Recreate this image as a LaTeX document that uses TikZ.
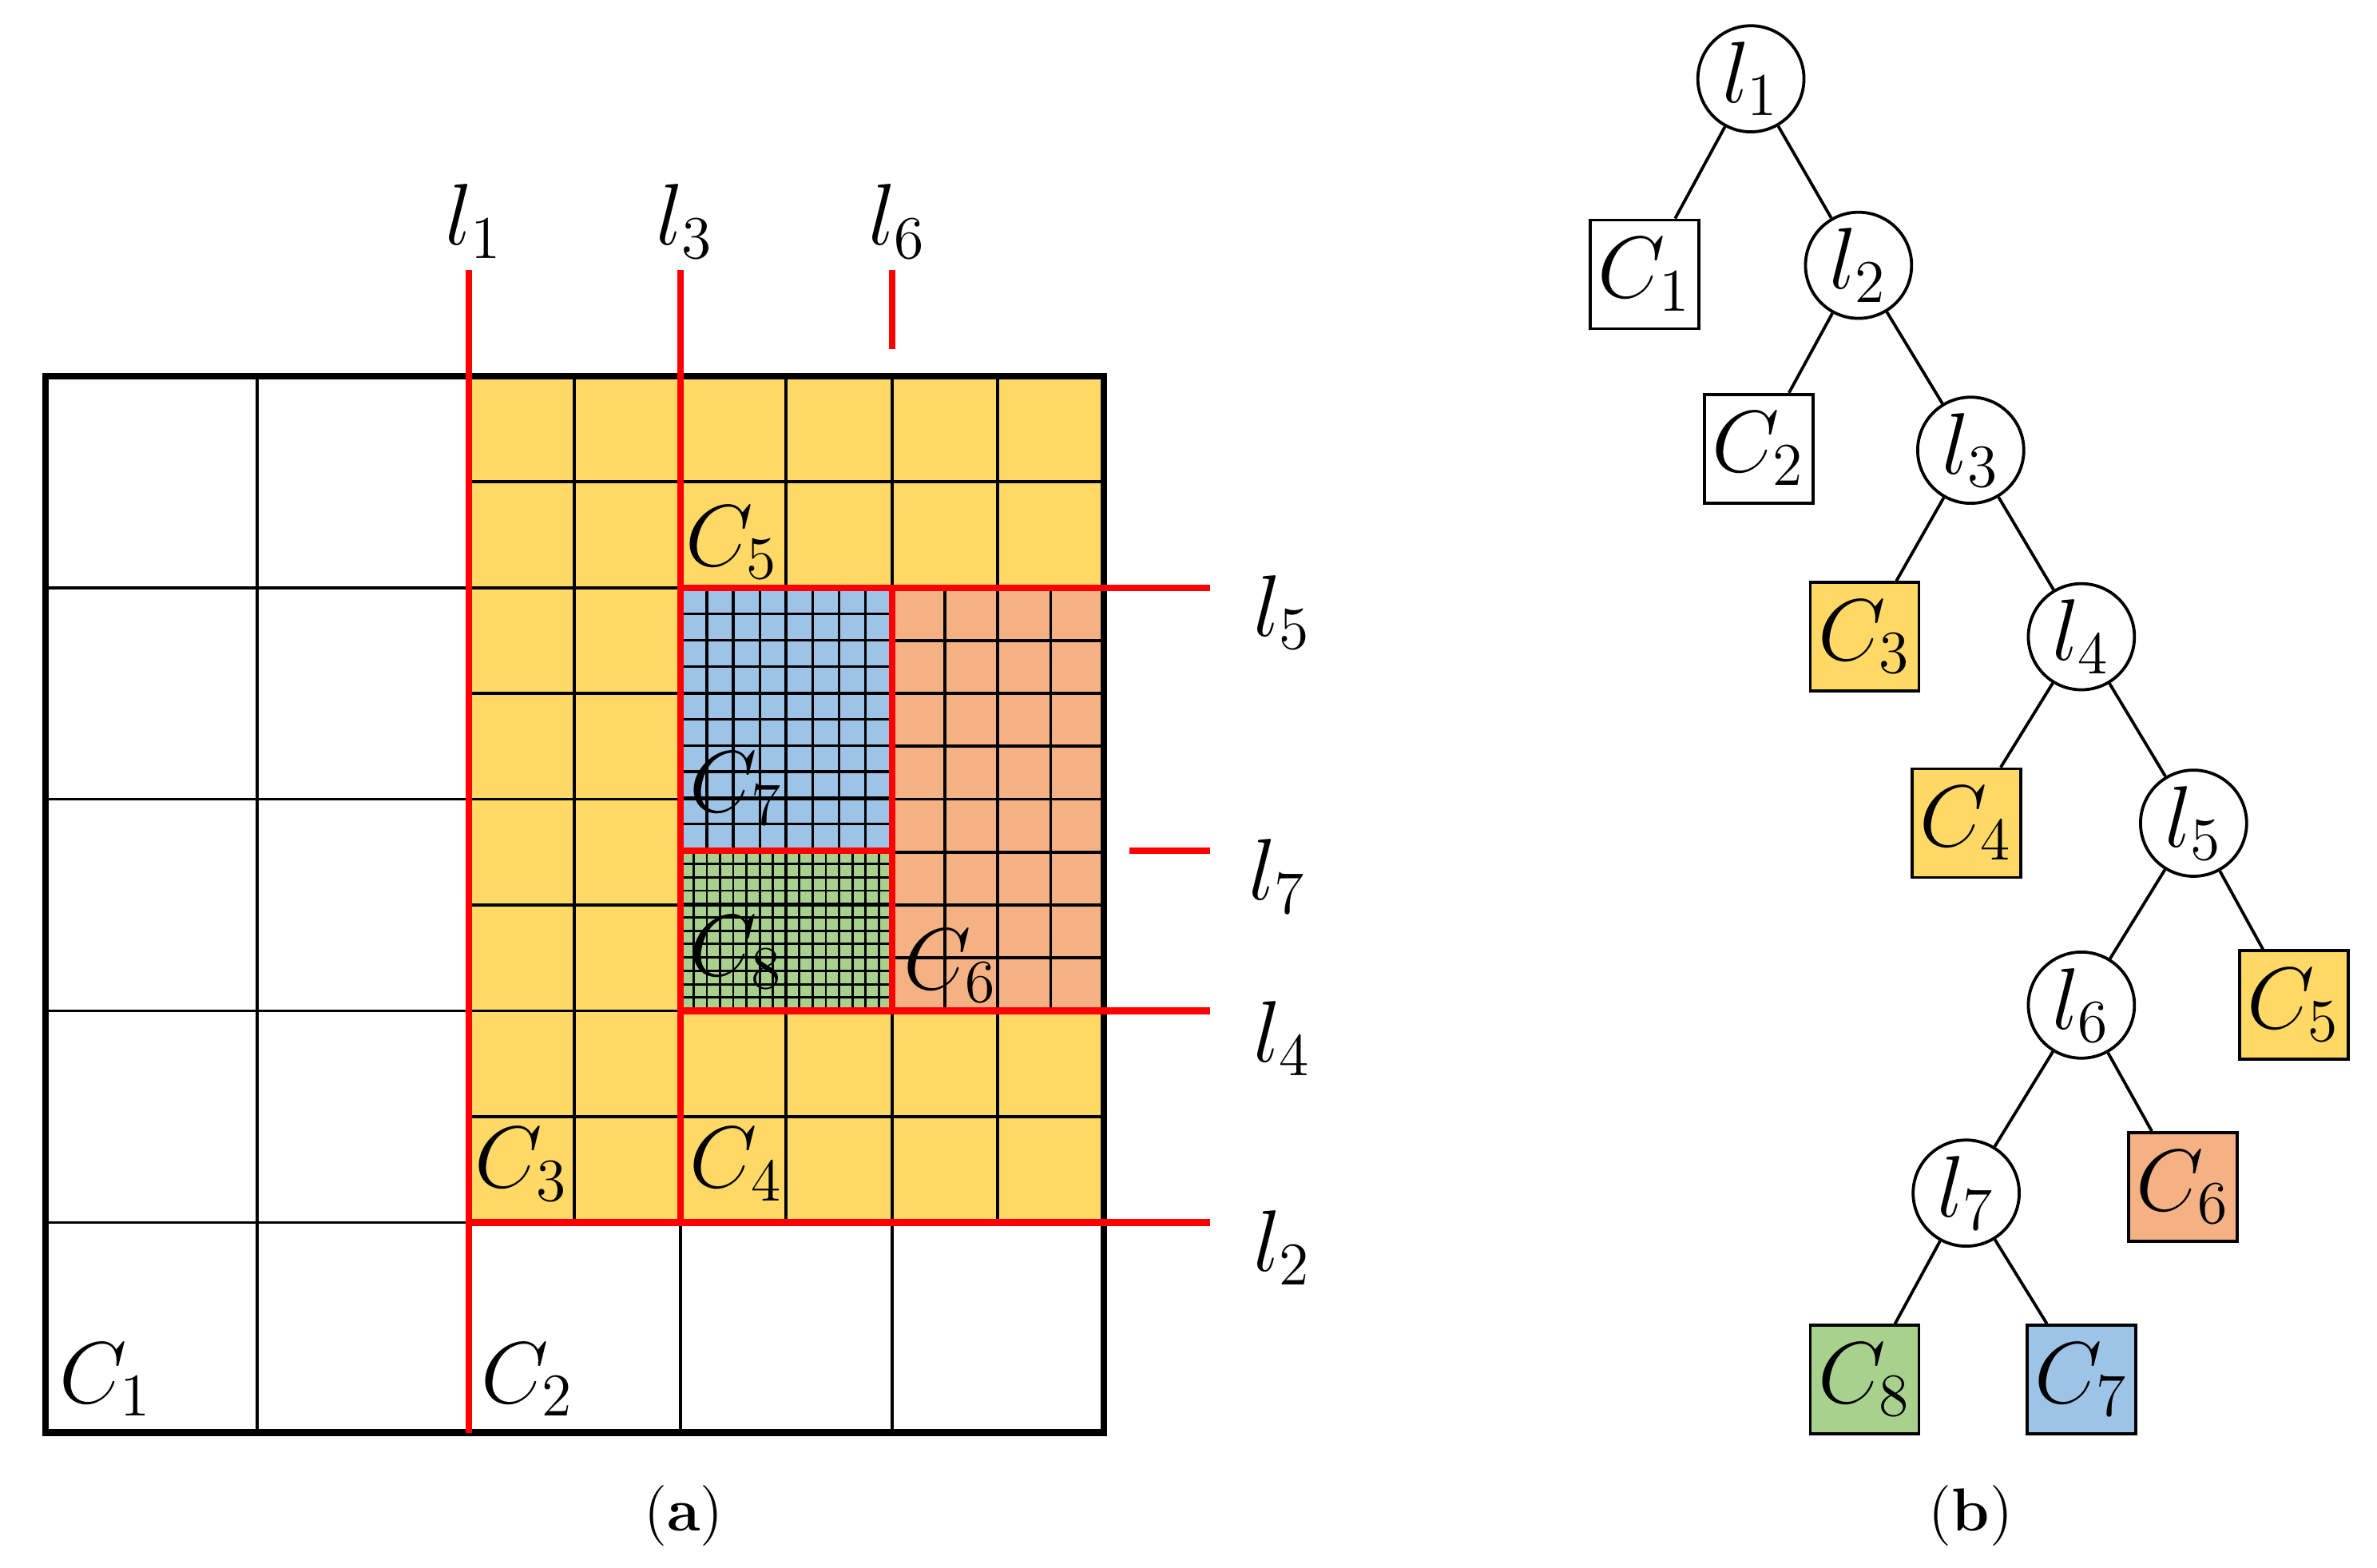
\documentclass[tikz,border=0pt]{standalone}
\usepackage{amsmath}
\begin{document}
\begin{tikzpicture}[x=0.3pt,y=-0.3pt,
  red line/.style={draw=red,line width=1.3pt},
  lab/.style={font=\fontsize{18}{20}\selectfont,inner sep=0pt},
  cnode/.style={circle,draw,line width=0.6pt,minimum size=21pt,inner sep=0pt,fill=white,font=\fontsize{17}{19}\selectfont},
  bnode/.style={rectangle,draw,line width=0.6pt,minimum size=21.5pt,inner sep=0pt,font=\fontsize{17}{19}\selectfont},
  edge/.style={line width=0.6pt}]
\definecolor{cy}{HTML}{FFD966}
\definecolor{cb}{HTML}{9DC3E6}
\definecolor{co}{HTML}{F4B183}
\definecolor{cg}{HTML}{A9D18E}
\useasboundingbox (0,0) rectangle (1568,1034);
\def\c{139.6}
% fills
\fill[cy] (309.2,248) rectangle (728,806.4);
\fill[cb] (448.8,387.6) rectangle (588.4,561);
\fill[cg] (448.8,561) rectangle (588.4,666.8);
\fill[co] (588.4,387.6) rectangle (728,666.8);
% coarse grid
\foreach \i in {1,...,4} {
  \draw[line width=0.6pt] ({30+\i*\c},248) -- ({30+\i*\c},945);
  \draw[line width=0.6pt] (30,{248+\i*\c}) -- (728,{248+\i*\c});
}
% yellow half grid
\foreach \i in {1,3,5} {
  \draw[line width=0.6pt] ({309.2+\i*69.8},248) -- ({309.2+\i*69.8},806.4);
}
\foreach \j in {1,3,5,7} {
  \draw[line width=0.6pt] (309.2,{248+\j*69.8}) -- (728,{248+\j*69.8});
}
% orange quarter grid
\foreach \i in {1,2,3} \draw[line width=0.6pt] ({588.4+\i*34.9},387.6) -- ({588.4+\i*34.9},666.8);
\foreach \j in {1,...,7} \draw[line width=0.6pt] (588.4,{387.6+\j*34.9}) -- (728,{387.6+\j*34.9});
% blue grid 8x10
\foreach \i in {1,...,7} \draw[line width=0.5pt] ({448.8+\i*17.45},387.6) -- ({448.8+\i*17.45},561);
\foreach \j in {1,...,9} \draw[line width=0.5pt] (448.8,{387.6+\j*17.34}) -- (588.4,{387.6+\j*17.34});
% green grid 16x12
\foreach \i in {1,...,15} \draw[line width=0.45pt] ({448.8+\i*8.725},561) -- ({448.8+\i*8.725},666.8);
\foreach \j in {1,...,11} \draw[line width=0.45pt] (448.8,{561+\j*8.82}) -- (588.4,{561+\j*8.82});
% outer border
\draw[line width=1.3pt] (30,248) rectangle (728,945);
% red lines
\draw[red line] (309.2,178) -- (309.2,945);
\draw[red line] (448.8,178) -- (448.8,806.4);
\draw[red line] (588.4,178) -- (588.4,230);
\draw[red line] (448.8,387.6) -- (798,387.6);
\draw[red line] (448.8,666.8) -- (798,666.8);
\draw[red line] (309.2,806.4) -- (798,806.4);
\draw[red line] (745,561) -- (798,561);
\draw[red line] (588.4,387.6) -- (588.4,666.8);
\draw[red line] (448.8,561) -- (588.4,561);
% line labels
\node[lab] (tl1) at (313,146) {$l_1$};
\node[lab] (tl3) at (452,146) {$l_3$};
\node[lab] (tl6) at (592,146) {$l_6$};
\node[lab] (tl5) at (846,404) {$l_5$};
\node[lab] (tl7) at (843,578) {$l_7$};
\node[lab] (tl4) at (846,685) {$l_4$};
\node[lab] (tl2) at (846,823) {$l_2$};
% cell labels
\node[lab] (tc1) at (70,910) {$C_1$};
\node[lab] (tc2) at (348,910) {$C_2$};
\node[lab] (tc3) at (344,768) {$C_3$};
\node[lab] (tc4) at (486,768) {$C_4$};
\node[lab] (tc5) at (483,358) {$C_5$};
\node[lab] (tc7) at (486,520) {$C_7$};
\node[lab] (tc8) at (486,628) {$C_8$};
\node[lab] (tc6) at (627,637) {$C_6$};
\node[font=\fontsize{12}{14}\selectfont] (ca) at (451,1000) {(\textbf{a})};
% tree
\node[cnode] (n1) at (1155,52) {$l_1$};
\node[cnode] (n2) at (1226,175) {$l_2$};
\node[cnode] (n3) at (1300,297) {$l_3$};
\node[cnode] (n4) at (1373,420) {$l_4$};
\node[cnode] (n5) at (1447,543) {$l_5$};
\node[cnode] (n6) at (1373,663) {$l_6$};
\node[cnode] (n7) at (1297,787) {$l_7$};
\node[bnode,fill=white] (b1) at (1085,181) {$C_1$};
\node[bnode,fill=white] (b2) at (1160,296) {$C_2$};
\node[bnode,fill=cy] (b3) at (1230,420) {$C_3$};
\node[bnode,fill=cy] (b4) at (1297,543) {$C_4$};
\node[bnode,fill=cy] (b5) at (1513,663) {$C_5$};
\node[bnode,fill=co] (b6) at (1440,783) {$C_6$};
\node[bnode,fill=cg] (b8) at (1230,910) {$C_8$};
\node[bnode,fill=cb] (b7) at (1373,910) {$C_7$};
\foreach \a/\b in {n1/b1,n1/n2,n2/b2,n2/n3,n3/b3,n3/n4,n4/b4,n4/n5,n5/n6,n5/b5,n6/n7,n6/b6,n7/b8,n7/b7}
  \draw[edge] (\a) -- (\b);
\node[font=\fontsize{12}{14}\selectfont] (cb2) at (1300,1000) {(\textbf{b})};
\end{tikzpicture}
\end{document}
